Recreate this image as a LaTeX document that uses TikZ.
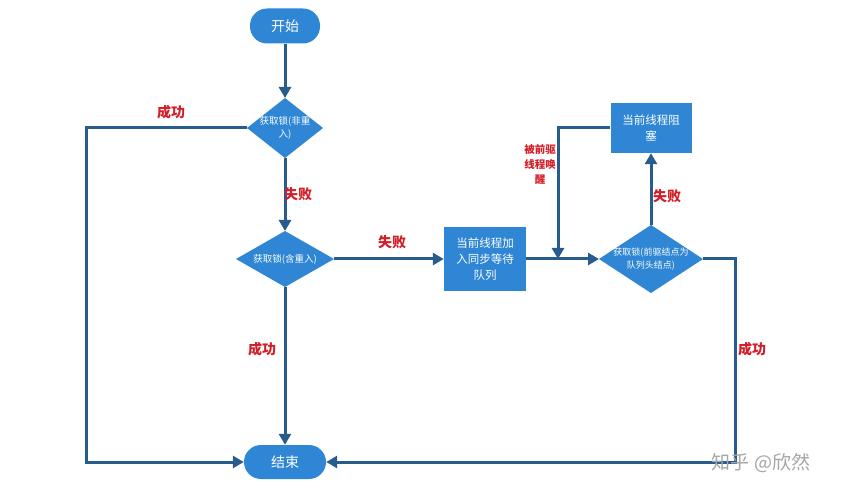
\documentclass[tikz,border=0pt]{standalone}
\usepackage{fontspec}
\setmainfont{Noto Sans CJK SC}
\newfontfamily\cjk{Noto Sans CJK SC}
\usetikzlibrary{shapes.geometric,arrows.meta}
\definecolor{boxblue}{RGB}{46,134,212}
\definecolor{linecol}{RGB}{40,92,140}
\definecolor{labred}{RGB}{210,30,40}
\tikzset{
  x=1pt,y=-1pt,
  term/.style={draw=none,fill=boxblue,rounded corners=17pt,text=white,font=\cjk\fontsize{14}{16}\selectfont,inner sep=0pt},
  diatext/.style={font=\cjk\fontsize{9.5}{13}\selectfont,text=white,align=center,inner sep=0pt},
  proc/.style={draw=none,fill=boxblue,text=white,font=\cjk\fontsize{11.5}{16}\selectfont,inner sep=0pt,align=center},
  conn/.style={draw=linecol,line width=3pt,-{Triangle[width=12pt,length=11pt]}},
  lab/.style={text=labred,font=\cjk\bfseries\fontsize{14}{16}\selectfont},
  smalllab/.style={text=labred,font=\cjk\bfseries\fontsize{10.5}{15}\selectfont,align=center}
}
\begin{document}
\begin{tikzpicture}
\useasboundingbox (0,0) rectangle (847,500);
\fill[white] (0,0) rectangle (847,500);
% nodes
\node[term,minimum width=70pt,minimum height=35pt] (start) at (285,26) {开始};
\path[fill=boxblue] (285,98) -- (323,128) -- (285,158) -- (247,128) -- cycle;
\node[diatext] (d1) at (285,128) {获取锁(非重\\入)};
\coordinate (d1t) at (285,98); \coordinate (d1b) at (285,158); \coordinate (d1l) at (247,128);
\path[fill=boxblue] (285,231) -- (334,259) -- (285,287) -- (236,259) -- cycle;
\node[diatext] (d2) at (285,259) {获取锁(含重入)};
\coordinate (d2t) at (285,231); \coordinate (d2b) at (285,287); \coordinate (d2r) at (334,259);
\node[proc,minimum width=82pt,minimum height=63pt] (q) at (485,259) {当前线程加\\入同步等待\\队列};
\path[fill=boxblue] (651,225) -- (703,259) -- (651,293) -- (599,259) -- cycle;
\node[diatext,font=\cjk\fontsize{9}{13}\selectfont] (d3) at (651,259) {获取锁(前驱结点为\\队列头结点)};
\coordinate (d3t) at (651,225); \coordinate (d3r) at (703,259); \coordinate (d3l) at (599,259);
\node[proc,minimum width=81pt,minimum height=50pt] (blk) at (651,128) {当前线程阻\\塞};
\node[term,minimum width=82pt,minimum height=34pt] (end) at (285,462) {结束};
% connectors
\draw[conn] (start.south) -- (d1t);
\draw[conn] (d1b) -- (d2t);
\draw[conn] (d2b) -- (end.north);
\draw[conn] (d1l) -- (86,128) -- (86,462) -- (end.west);
\draw[conn] (d2r) -- (q.west);
\draw[conn] (q.east) -- (d3l);
\draw[conn] (d3t) -- (blk.south);
\coordinate (wk) at (558,259);
\draw[conn] (blk.west) -| (wk);
\draw[conn] (d3r) -- (735,259) -- (735,462) -- (end.east);
% labels
\node[lab] (l1) at (171,112) {成功};
\node[lab] (l2) at (298,194) {失败};
\node[lab] (l3) at (392,242) {失败};
\node[lab] (l4) at (262,349) {成功};
\node[lab] (l5) at (667,196) {失败};
\node[lab] (l6) at (752,349) {成功};
\node[smalllab] (l7) at (540,164) {被前驱\\线程唤\\醒};
\node[text=black!35,font=\cjk\fontsize{19}{22}\selectfont] (wm) at (761,463) {知乎 @欣然};
\end{tikzpicture}
\end{document}
